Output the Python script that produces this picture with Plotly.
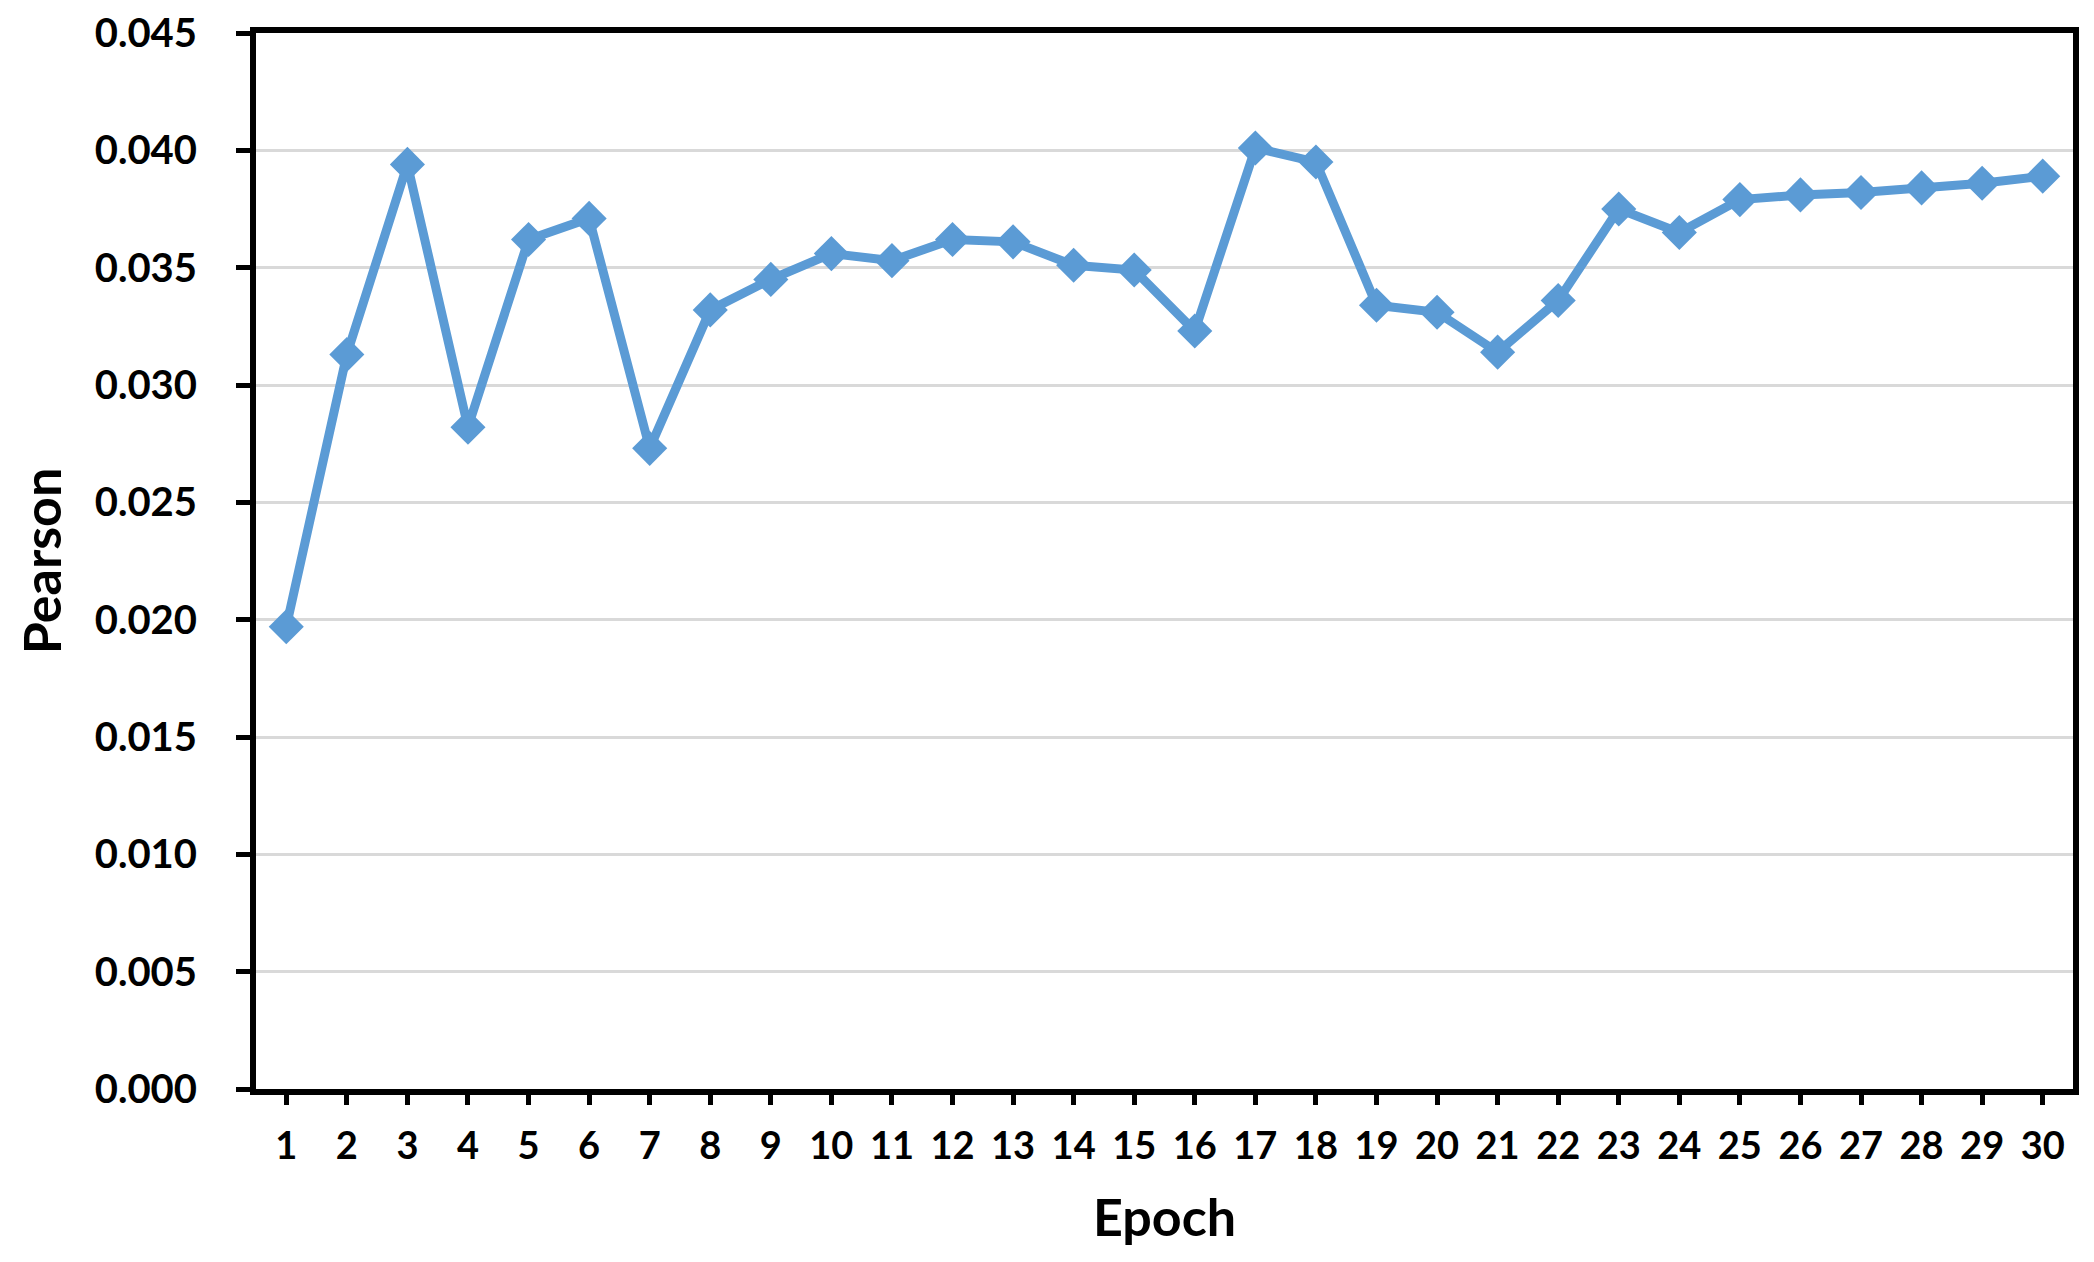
import plotly.graph_objects as go

# Pearson correlation per training epoch
epochs = list(range(1, 31))
pearson = [0.0197, 0.0313, 0.0394, 0.0282, 0.0362, 0.0371, 0.0273, 0.0332, 0.0345, 0.0356,
           0.0353, 0.0362, 0.0361, 0.0351, 0.0349, 0.0323, 0.0401, 0.0395, 0.0334, 0.0331,
           0.0314, 0.0336, 0.0375, 0.0365, 0.0379, 0.0381, 0.0382, 0.0384, 0.0386, 0.0389]

y_ticks = [0.000, 0.005, 0.010, 0.015, 0.020, 0.025, 0.030, 0.035, 0.040, 0.045]
y_ticktext = ['%.3f' % v for v in y_ticks]

blue = '#5B9BD5'
font_family = 'Lato'

fig = go.Figure()

fig.add_trace(go.Scatter(
    x=epochs,
    y=pearson,
    mode='lines+markers',
    line=dict(color=blue, width=9),
    marker=dict(symbol='diamond', size=27, color=blue),
    showlegend=False,
    cliponaxis=False,
))

fig.update_layout(
    width=2094,
    height=1262,
    margin=dict(l=256, r=21, t=33, b=173, autoexpand=False),
    paper_bgcolor='white',
    plot_bgcolor='white',
    font=dict(family=font_family, color='black'),
)

fig.update_xaxes(
    range=[0.5, 30.5],
    tickmode='array',
    tickvals=epochs,
    ticktext=[str(e) for e in epochs],
    ticks='outside',
    ticklen=10,
    tickwidth=5,
    tickcolor='black',
    ticklabelstandoff=8,
    tickfont=dict(size=38, family=font_family, weight='bold'),
    showline=True,
    linecolor='black',
    linewidth=6,
    mirror=True,
    showgrid=False,
    zeroline=False,
    title=dict(text='<b>Epoch</b>', font=dict(size=52, family=font_family), standoff=36),
)

fig.update_yaxes(
    range=[0, 0.045],
    tickmode='array',
    tickvals=y_ticks,
    ticktext=y_ticktext,
    ticks='outside',
    ticklen=14,
    tickwidth=5,
    tickcolor='black',
    ticklabelstandoff=31,
    tickfont=dict(size=40, family=font_family, weight='bold'),
    showline=True,
    linecolor='black',
    linewidth=6,
    mirror=True,
    showgrid=True,
    gridcolor='#D9D9D9',
    gridwidth=3,
    zeroline=False,
    title=dict(text='<b>Pearson</b>', font=dict(size=52, family=font_family), standoff=18),
)

# drop the default page margin so the chart sits at the window origin, no modebar
fig.write_html("out.html", config={'displayModeBar': False},
               post_script="document.body.style.margin='0';")
